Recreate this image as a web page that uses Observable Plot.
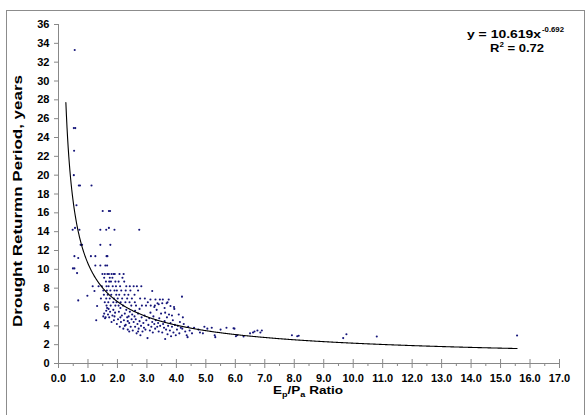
<!DOCTYPE html>
<html><head><meta charset="utf-8">
<script src="https://cdn.jsdelivr.net/npm/d3@7"></script>
<script src="https://cdn.jsdelivr.net/npm/@observablehq/plot@0.6"></script>
<style>
html,body{margin:0;padding:0;background:#fff;}
#wrap{position:relative;width:586px;height:415px;overflow:hidden;}
#frame{position:absolute;left:6px;top:10px;width:579px;height:410px;border:1px solid #8c8c8c;box-sizing:border-box;pointer-events:none;}
#wrap svg{position:absolute;left:0;top:0;}
</style></head><body><div id="wrap"><div id="frame"></div></div>
<script>
// ---- data (Ep/Pa ratio, drought return period in years) ----
const outliers = [[0.55,33.3],[0.52,25.0],[0.57,25.0],[0.53,22.6],[0.52,20.0],[0.69,18.9],[0.73,18.9],[1.12,18.9],[0.61,16.8],[1.50,16.2],[1.71,16.2],[1.75,16.2],[0.48,14.2],[0.56,14.4],[0.71,14.2],[1.42,14.2],[1.62,14.2],[1.71,14.4],[1.90,14.2],[2.74,14.2],[0.75,12.6],[0.80,12.6],[1.42,12.6],[1.76,12.6],[0.54,11.4],[0.67,11.2],[1.10,11.4],[1.25,11.4],[1.63,11.4],[1.66,11.4],[0.49,10.1],[0.54,10.1],[0.63,9.6],[1.25,10.4],[1.42,10.4],[1.59,10.4],[1.65,10.4],[0.67,6.7],[0.98,7.2],[1.16,8.2],[1.22,7.7],[1.31,6.1],[1.28,4.6]];
const upperRows = [[1.49,9.5],[1.57,9.5],[1.66,9.5],[1.71,9.5],[1.80,9.5],[1.87,9.5],[1.91,9.5],[2.07,9.5],[2.21,9.5],
[1.55,9.1],[1.74,9.1],[1.83,9.1],[2.17,9.1],
[1.61,8.7],[1.72,8.7],[1.78,8.7],[1.93,8.7],[2.04,8.7],[2.23,8.7],
[1.36,8.2],[1.47,8.2],[1.63,8.2],[1.70,8.2],[1.84,8.2],[1.95,8.2],[2.09,8.2],[2.30,8.2],[2.42,8.2],[2.55,8.2],[2.66,8.2],[2.81,8.2],
[1.52,7.75],[1.64,7.75],[1.76,7.75],[1.90,7.75],[1.98,7.75],[2.13,7.75],[2.28,7.75],[2.44,7.75],[2.70,7.75],[3.18,7.7],
[1.54,7.3],[1.67,7.3],[1.79,7.3],[1.96,7.3],[2.06,7.3],[2.24,7.3],[2.37,7.3],[2.58,7.3],
[1.44,6.9],[1.62,6.9],[1.74,6.9],[1.88,6.9],[2.01,6.9],[2.16,6.9],[2.33,6.9],[2.49,6.9],[2.77,6.9],[2.93,6.9],[3.12,6.8],[3.29,6.8],[3.44,6.8],[3.54,6.8],[3.74,6.8],[4.19,7.1]];
const middleRows = [[1.57,6.5],[1.69,6.5],[1.86,6.5],[1.97,6.5],[2.11,6.5],[2.27,6.5],[2.41,6.5],[2.59,6.5],[3.03,6.5],[3.36,6.4],[3.52,6.4],[3.67,6.4],
[1.63,6.15],[1.77,6.15],[1.93,6.15],[2.04,6.15],[2.19,6.15],[2.47,6.15],[2.63,6.15],[2.83,6.15],[2.97,6.15],[3.13,6.15],[3.27,6.15],[3.80,6.1]];
const lowerCluster = [[1.52,5.0],[1.55,5.3],[1.58,4.8],[1.62,5.6],[1.65,5.9],[1.68,5.2],[1.72,4.9],[1.75,5.5],[1.80,4.4],[1.83,5.1],[1.86,5.7],[1.88,4.6],[1.92,5.4],[1.98,4.2],[1.60,4.9],[1.70,5.8],[1.90,5.0],
[2.02,4.7],[2.05,5.5],[2.08,3.9],[2.10,5.9],[2.12,4.4],[2.15,5.1],[2.20,3.7],[2.22,4.6],[2.25,5.3],[2.28,4.1],[2.30,5.7],[2.33,4.9],[2.35,3.6],[2.38,5.0],[2.40,4.3],[2.42,5.5],[2.45,3.9],[2.48,4.7],[2.50,5.2],[2.10,4.9],[2.25,4.0],[2.35,4.5],[2.40,3.4],
[2.52,3.5],[2.55,4.4],[2.58,5.0],[2.60,3.9],[2.62,4.7],[2.65,3.2],[2.68,4.2],[2.70,5.3],[2.72,3.7],[2.75,4.5],[2.78,3.0],[2.80,4.0],[2.82,4.9],[2.85,3.4],[2.88,4.3],[2.90,3.8],[2.92,5.1],[2.95,3.6],[2.98,4.6],[2.60,5.6],[2.75,5.8],[2.70,3.4],
[3.02,2.7],[3.05,4.1],[3.08,4.8],[3.10,3.5],[3.12,5.4],[3.15,3.9],[3.18,4.4],[3.20,3.3],[3.22,5.0],[3.25,4.2],[3.28,3.7],[3.30,4.6],[3.33,5.7],[3.35,3.9],[3.38,4.3],[3.40,3.4],[3.42,4.8],[3.45,4.0],[3.48,5.3],[3.25,6.0],[3.40,6.3],
[3.52,3.3],[3.55,4.2],[3.58,3.8],[3.60,4.5],[3.62,2.6],[3.65,3.6],[3.68,4.9],[3.70,3.1],[3.72,4.0],[3.75,5.2],[3.78,3.5],[3.80,4.3],[3.82,2.9],[3.85,3.9],[3.88,4.6],[3.90,3.3],[3.92,6.0],[3.95,4.1],[3.98,3.0],[3.60,5.9],[3.62,5.4],[3.85,5.1],[3.93,5.8],[3.70,6.5],
[4.02,3.6],[4.05,4.0],[4.08,5.2],[4.10,3.2],[4.12,4.4],[4.15,3.8],[4.20,3.7],[4.22,4.9],[4.25,4.2],[4.30,3.4],[4.35,3.0],[4.38,2.8],[4.40,3.9],[4.45,3.5],[4.53,3.2]];
const rightTail = [[4.60,3.8],[4.75,3.6],[4.80,3.3],[4.90,3.2],[4.95,3.9],[5.05,3.7],[5.20,3.8],[5.30,3.0],[5.32,2.8],[5.50,3.6],[5.70,3.8],[5.94,3.75],[5.97,3.7],[6.02,2.9],[6.06,3.0],[6.28,2.87],
[6.50,3.2],[6.60,3.3],[6.65,3.4],[6.75,3.5],[6.85,3.3],[6.90,3.5],[7.92,3.0],[8.10,2.9],[8.15,2.95],[9.66,2.7],[9.77,3.1],[10.80,2.87],[15.56,2.97]];

// power trendline shown on the chart: y = 10.619 x^-0.692
const fitA = 10.619, fitB = -0.692, fitR2 = 0.72;
const fitFrom = 0.25, fitTo = 15.56;

const xTicks = d3.range(0, 17.01, 1);
const xMinor = d3.range(0.5, 17, 1);
const yTicks = d3.range(0, 36.01, 2);

const points = [...outliers, ...upperRows, ...middleRows, ...lowerCluster, ...rightTail];
const trend = d3.range(fitFrom, fitTo, 0.02).concat([fitTo]).map(x => ({x, y: fitA * Math.pow(x, fitB)}));

const font = "'Liberation Sans', Arial, sans-serif";
const chart = Plot.plot({
  width: 586, height: 415,
  marginLeft: 58, marginRight: 27, marginTop: 24, marginBottom: 52,
  style: {fontFamily: font, fontWeight: "bold", fontSize: "11px", color: "#000", background: "transparent"},
  x: {domain: [0, 17]},
  y: {domain: [0, 36]},
  marks: [
    Plot.axisY(yTicks, {tickSize: 4, tickPadding: 5, stroke: "#888", tickFormat: d => String(d), label: null}),
    Plot.axisX(xTicks, {tickSize: 5, tickPadding: 6, stroke: "#888", tickFormat: d => d.toFixed(1), label: null}),
    Plot.axisX(xTicks, {tickSize: -4, stroke: "#888", tickFormat: () => "", label: null}),
    Plot.axisX(xMinor, {tickSize: 3, stroke: "#888", tickFormat: () => "", label: null}),
    Plot.ruleX([0], {stroke: "#888"}),
    Plot.ruleY([0], {stroke: "#888"}),
    Plot.dot(points, {x: d => d[0], y: d => d[1], r: 1.05, fill: "#14147a", stroke: null}),
    Plot.line(trend, {x: "x", y: "y", stroke: "#000", strokeWidth: 1.1})
  ]
});
document.getElementById("wrap").appendChild(chart);

// annotations (titles and equation)
const svg = d3.select(chart);
const ann = svg.append("g").attr("font-family", font).attr("font-weight", "bold").attr("fill", "#000");
ann.append("text")
  .attr("transform", "translate(18,201) rotate(-90)")
  .attr("text-anchor", "middle").attr("dominant-baseline", "central")
  .attr("font-size", 12.5).attr("textLength", 252).attr("lengthAdjust", "spacingAndGlyphs")
  .text("Drought Returmn Period, years");

const xt = ann.append("text").attr("x", 308).attr("y", 394).attr("text-anchor", "middle").attr("font-size", 10.5)
  .attr("textLength", 70).attr("lengthAdjust", "spacingAndGlyphs");
xt.append("tspan").text("E");
xt.append("tspan").attr("font-size", 7).attr("dy", 3).text("p");
xt.append("tspan").attr("dy", -3).text("/P");
xt.append("tspan").attr("font-size", 7).attr("dy", 3).text("a");
xt.append("tspan").attr("dy", -3).text(" Ratio");

ann.append("text").attr("x", 541).attr("y", 37.5).attr("text-anchor", "end").attr("font-size", 11.5)
  .attr("textLength", 74).attr("lengthAdjust", "spacingAndGlyphs").text(`y = ${fitA}x`);
ann.append("text").attr("x", 542).attr("y", 32).attr("text-anchor", "start").attr("font-size", 7.5)
  .attr("textLength", 22).attr("lengthAdjust", "spacingAndGlyphs").text(String(fitB));
const r2 = ann.append("text").attr("x", 517).attr("y", 51.5).attr("text-anchor", "middle").attr("font-size", 11.5)
  .attr("textLength", 54).attr("lengthAdjust", "spacingAndGlyphs");
r2.append("tspan").text("R");
r2.append("tspan").attr("font-size", 7).attr("dy", -5).text("2");
r2.append("tspan").attr("dy", 5).text(` = ${fitR2}`);
</script></body></html>
